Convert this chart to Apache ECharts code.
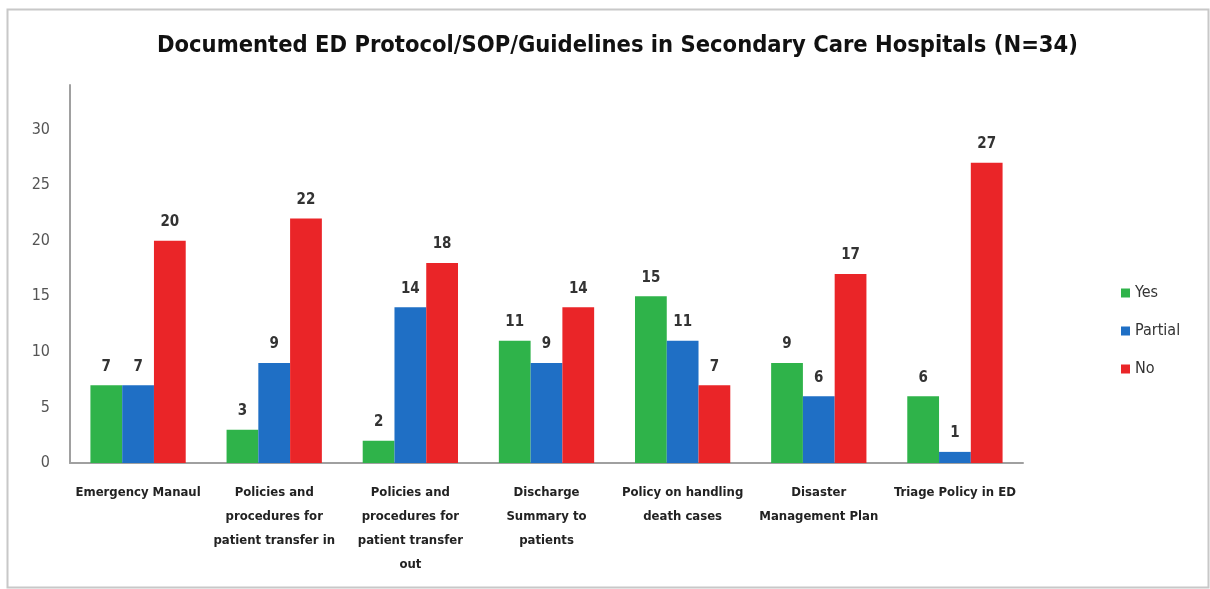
<!DOCTYPE html>
<html>
<head>
<meta charset="utf-8">
<script src="https://cdn.jsdelivr.net/npm/echarts@6/dist/echarts.min.js"></script>
<style>
html,body{margin:0;padding:0;background:#fff;}
#chart{width:1210px;height:589px;}
</style>
</head>
<body>
<div id="chart"></div>
<script>
const categories = [
  "Emergency Manaul",
  "Policies and\nprocedures for\npatient transfer in",
  "Policies and\nprocedures for\npatient transfer\nout",
  "Discharge\nSummary to\npatients",
  "Policy on handling\ndeath cases",
  "Disaster\nManagement Plan",
  "Triage Policy in ED"
];
const yesValues = [7, 3, 2, 11, 15, 9, 6];
const partialValues = [7, 9, 14, 9, 11, 6, 1];
const noValues = [20, 22, 18, 14, 7, 17, 27];
const seriesNames = ["Yes", "Partial", "No"];
const chartTitle = "Documented ED Protocol/SOP/Guidelines in Secondary Care Hospitals (N=34)";

const narrow = "'Liberation Sans Narrow', 'DejaVu Sans Condensed', 'Liberation Sans', sans-serif";
const colors = ["#2fb34a", "#1f6fc5", "#ea2528"];

const chart = echarts.init(document.getElementById('chart'));
const labelOpt = {
  show: true, position: 'top', distance: 11,
  fontFamily: narrow, fontSize: 15, fontWeight: 'bold', color: '#333'
};
function mk(name, data, i) {
  return {
    name: name, type: 'bar', data: data, barGap: '0%', barCategoryGap: '30%',
    itemStyle: { color: colors[i] }, label: labelOpt
  };
}
chart.setOption({
  backgroundColor: '#fff',
  animation: false,
  title: {
    text: chartTitle, left: 152, top: 29,
    textStyle: { fontFamily: narrow, fontSize: 23.5, fontWeight: 'bold', color: '#111' }
  },
  legend: {
    orient: 'vertical', left: 1116, top: 280,
    itemWidth: 9, itemHeight: 9, itemGap: 22, icon: 'rect',
    textStyle: { fontFamily: narrow, fontSize: 16, color: '#333' },
    data: seriesNames
  },
  grid: { left: 70, right: 187, top: 85, bottom: 126, containLabel: false },
  xAxis: {
    type: 'category', data: categories,
    axisLine: { lineStyle: { color: '#a0a0a0', width: 2 } },
    axisTick: { show: false },
    axisLabel: {
      interval: 0, margin: 18, lineHeight: 24,
      fontFamily: narrow, fontSize: 13, fontWeight: 'bold', color: '#222'
    }
  },
  yAxis: {
    type: 'value', min: 0, max: 34, interval: 5,
    axisLine: { show: true, lineStyle: { color: '#a0a0a0', width: 2 } },
    axisTick: { show: false },
    splitLine: { show: false },
    axisLabel: { showMaxLabel: false, margin: 20, fontFamily: narrow, fontSize: 16, color: '#555' }
  },
  graphic: [{
    type: 'rect', left: 5, top: 7, z: -1,
    shape: { width: 1201, height: 578 },
    style: { fill: 'none', stroke: '#c8c8c8', lineWidth: 2 }
  }],
  series: [
    mk(seriesNames[0], yesValues, 0),
    mk(seriesNames[1], partialValues, 1),
    mk(seriesNames[2], noValues, 2)
  ]
});
</script>
</body>
</html>
